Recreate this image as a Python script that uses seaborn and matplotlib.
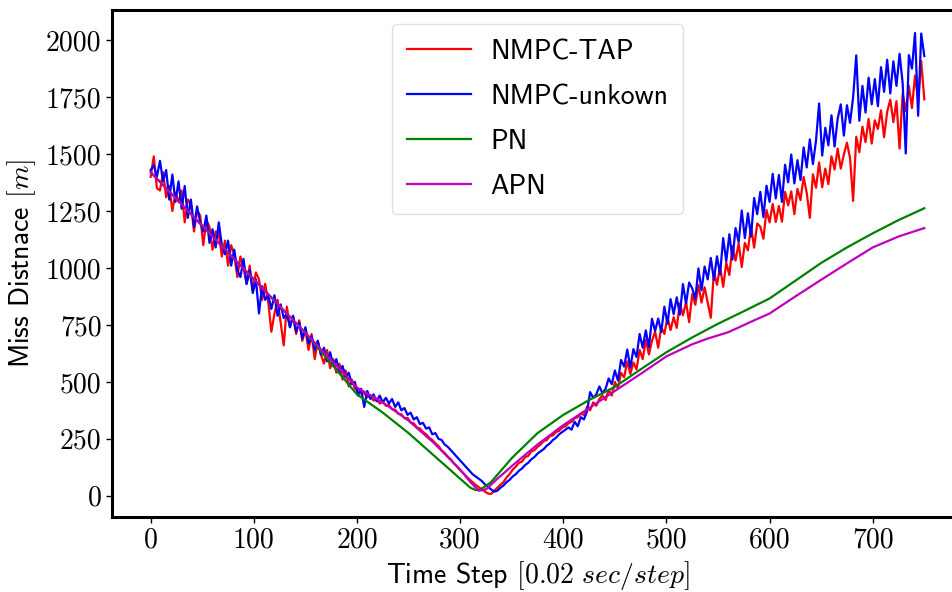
import numpy as np
import pandas as pd
import matplotlib
matplotlib.use("Agg")
import matplotlib.pyplot as plt
import seaborn as sns

# ---------------- data ----------------
steps_noisy = list(range(0, 751, 3))

nmpc_tap = [
    # 0 .. 27
    1400, 1490, 1350, 1340, 1420, 1310, 1360, 1250, 1330, 1290,
    # 30 .. 57
    1340, 1200, 1300, 1280, 1160, 1250, 1230, 1100, 1210, 1180,
    # 60 .. 87
    1080, 1160, 1150, 1050, 1120, 1010, 1100, 1060, 960, 1050,
    # 90 .. 117
    1000, 930, 1010, 900, 980, 950, 860, 930, 850, 720,
    # 120 .. 147
    800, 860, 760, 660, 830, 740, 790, 710, 770, 680,
    # 150 .. 177
    730, 640, 710, 600, 680, 620, 580, 640, 560, 600,
    # 180 .. 207
    540, 580, 510, 550, 480, 510, 470, 468, 448, 450,
    # 210 .. 237
    432, 440, 418, 425, 405, 412, 395, 398, 380, 378,
    # 240 .. 267
    360, 358, 340, 342, 322, 318, 300, 295, 280, 270,
    # 270 .. 297
    255, 245, 230, 218, 200, 188, 172, 160, 142, 128,
    # 300 .. 327
    112, 100, 85, 72, 60, 48, 38, 28, 18, 10,
    # 330 .. 357
    8, 22, 35, 48, 60, 80, 95, 115, 128, 145,
    # 360 .. 387
    150, 170, 175, 195, 200, 215, 225, 240, 245, 262,
    # 390 .. 417
    265, 280, 285, 300, 305, 318, 325, 340, 345, 360,
    # 420 .. 447
    355, 390, 375, 410, 395, 425, 440, 420, 465, 440,
    # 450 .. 477
    500, 470, 540, 520, 590, 535, 585, 555, 640, 600,
    # 480 .. 507
    685, 620, 680, 720, 650, 740, 710, 784, 727, 784,
    # 510 .. 537
    737, 845, 792, 850, 762, 885, 838, 925, 848, 915,
    # 540 .. 567
    848, 781, 983, 926, 1006, 917, 1023, 969, 1096, 1032,
    # 570 .. 597
    1108, 1004, 1110, 1077, 1183, 1089, 1195, 1181, 1128, 1254,
    # 600 .. 627
    1200, 1281, 1202, 1272, 1203, 1334, 1275, 1336, 1236, 1347,
    # 630 .. 657
    1298, 1399, 1330, 1220, 1411, 1352, 1463, 1354, 1436, 1368,
    # 660 .. 687
    1490, 1432, 1524, 1436, 1498, 1550, 1482, 1294, 1576, 1508,
    # 690 .. 717
    1620, 1552, 1654, 1546, 1648, 1610, 1692, 1574, 1686, 1738,
    # 720 .. 747
    1640, 1732, 1524, 1766, 1688, 1800, 1702, 1844, 1736, 1908,
    # 750
    1740,
]

nmpc_unknown = [
    # 0 .. 27
    1430, 1450, 1400, 1470, 1380, 1430, 1300, 1410, 1290, 1380,
    # 30 .. 57
    1260, 1360, 1220, 1300, 1180, 1270, 1200, 1160, 1230, 1110,
    # 60 .. 87
    1170, 1090, 1200, 1100, 1060, 1120, 1010, 1080, 990, 960,
    # 90 .. 117
    1040, 930, 990, 890, 950, 800, 920, 860, 880, 820,
    # 120 .. 147
    880, 790, 840, 780, 800, 740, 790, 720, 760, 690,
    # 150 .. 177
    740, 670, 700, 640, 680, 620, 650, 590, 630, 570,
    # 180 .. 207
    600, 540, 570, 520, 540, 490, 500, 440, 470, 390,
    # 210 .. 237
    460, 425, 445, 415, 440, 410, 430, 405, 425, 390,
    # 240 .. 267
    410, 375, 385, 355, 365, 335, 345, 315, 320, 295,
    # 270 .. 297
    300, 270, 275, 250, 245, 225, 215, 200, 185, 170,
    # 300 .. 327
    155, 140, 125, 110, 95, 85, 75, 65, 50, 40,
    # 330 .. 357
    28, 18, 22, 35, 45, 60, 70, 85, 95, 110,
    # 360 .. 387
    120, 135, 145, 160, 170, 185, 195, 205, 220, 230,
    # 390 .. 417
    245, 255, 270, 280, 290, 300, 290, 325, 305, 345,
    # 420 .. 447
    335, 370, 455, 430, 445, 480, 450, 470, 515, 490,
    # 450 .. 477
    550, 506, 596, 567, 642, 563, 644, 609, 710, 650,
    # 480 .. 507
    726, 652, 777, 723, 778, 719, 830, 755, 863, 797,
    # 510 .. 537
    871, 795, 929, 843, 936, 910, 864, 998, 902, 1006,
    # 540 .. 567
    950, 1044, 948, 1051, 972, 1131, 1029, 1148, 1037, 1175,
    # 570 .. 597
    1114, 1252, 1131, 1240, 1138, 1307, 1236, 1334, 1223, 1361,
    # 600 .. 627
    1290, 1413, 1305, 1408, 1290, 1453, 1376, 1498, 1371, 1473,
    # 630 .. 657
    1386, 1529, 1441, 1564, 1456, 1559, 1722, 1493, 1615, 1538,
    # 660 .. 687
    1670, 1533, 1655, 1718, 1581, 1714, 1637, 1750, 1933, 1646,
    # 690 .. 717
    1799, 1682, 1835, 1718, 1829, 1710, 1881, 1773, 1914, 1766,
    # 720 .. 747
    1907, 1799, 1940, 1811, 1502, 1934, 1875, 2031, 1668, 2029,
    # 750
    1930,
]

steps_pn = [0, 50, 100, 150, 200, 225, 250, 275, 300, 310, 315, 320, 330,
            350, 375, 400, 425, 450, 475, 500, 525, 550, 575, 600, 625,
            650, 675, 700, 725, 750]
pn = [1420, 1185, 950, 715, 445, 365, 275, 175, 75, 35, 25, 28, 60,
      165, 275, 355, 420, 478, 555, 630, 695, 755, 810, 866, 944,
      1022, 1090, 1152, 1210, 1262]

steps_apn = [0, 50, 100, 150, 200, 225, 250, 275, 300, 310, 318, 325, 335,
             350, 375, 400, 425, 450, 475, 500, 525, 540, 560, 585, 600,
             625, 650, 675, 700, 725, 750]
apn = [1420, 1185, 950, 715, 475, 410, 330, 230, 115, 60, 22, 28, 70,
       130, 225, 310, 385, 460, 535, 612, 665, 690, 718, 770, 800,
       875, 948, 1020, 1090, 1138, 1175]

labels = ["NMPC-TAP", "NMPC-unkown", "PN", "APN"]
colors = ["#ff0000", "#0000ff", "#008000", "#bf00bf"]

# ---------------- plot ----------------
plt.rcParams["mathtext.fontset"] = "cm"
plt.rcParams["font.family"] = ["cmss10", "DejaVu Sans"]
plt.rcParams["axes.unicode_minus"] = False

fig = plt.figure(figsize=(9.52, 5.92), dpi=100)
ax = fig.add_axes([112 / 952, 75 / 592, (963 - 112) / 952, (517 - 10) / 592])

series = [
    (steps_noisy, nmpc_tap),
    (steps_noisy, nmpc_unknown),
    (steps_pn, pn),
    (steps_apn, apn),
]
for (xs, ys), lab, col in zip(series, labels, colors):
    sns.lineplot(x=xs, y=ys, ax=ax, color=col, label=lab, linewidth=1.6)

ax.set_xticks([0, 100, 200, 300, 400, 500, 600, 700])
ax.set_yticks([0, 250, 500, 750, 1000, 1250, 1500, 1750, 2000])
ax.tick_params(axis="both", labelsize=20, width=1, length=4,
               labelfontfamily="cmr10")

for sp in ax.spines.values():
    sp.set_linewidth(2.2)
    sp.set_color("black")

ax.set_xlabel(r"Time Step $[0.02\ sec/step]$", fontsize=20, labelpad=4)
ax.set_ylabel(r"Miss Distnace $[m]$", fontsize=20, labelpad=6)

leg = ax.legend(loc="upper center", fontsize=20, handlelength=2.3,
                handletextpad=0.7, labelspacing=0.72, borderpad=0.55,
                frameon=True)
leg.get_frame().set_edgecolor("#d9d9d9")

fig.savefig("out.png", dpi=100)
